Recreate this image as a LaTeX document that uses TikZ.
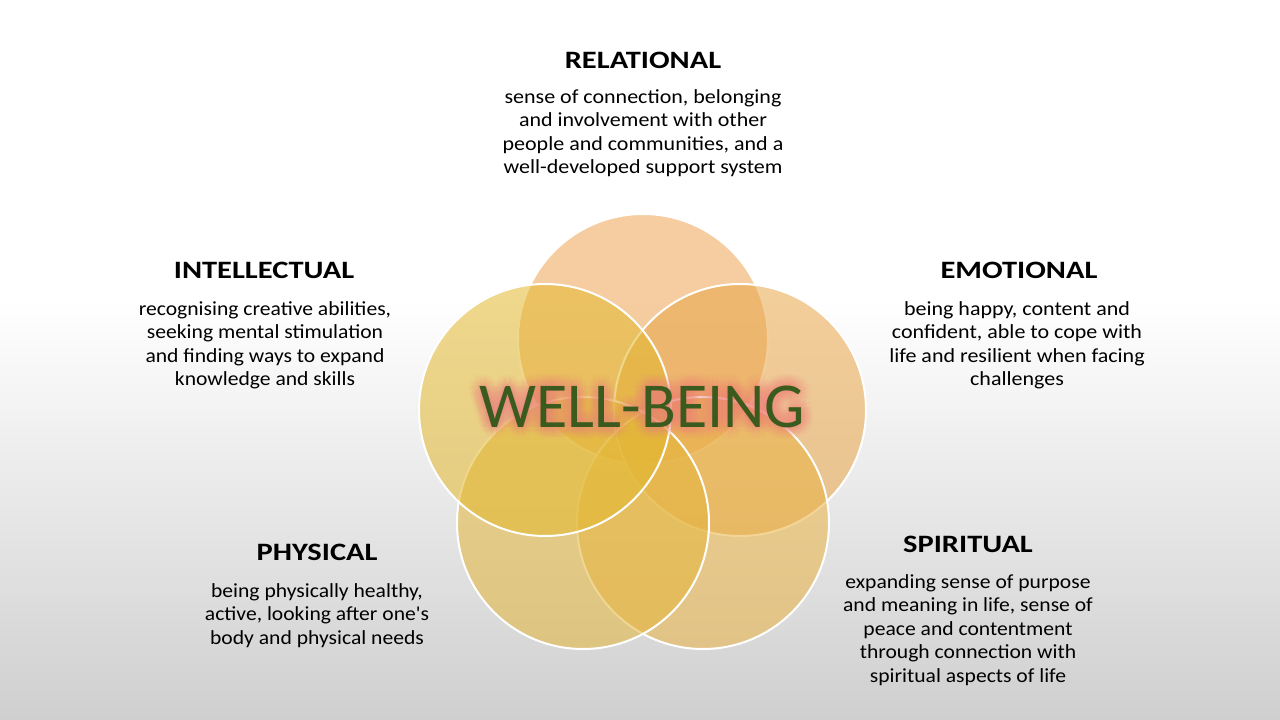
\documentclass[tikz,border=0pt]{standalone}
\usepackage{fontspec}
\setmainfont{Carlito}[Ligatures=TeXOff]
\usepackage{graphicx}
\usetikzlibrary{calc}
\definecolor{cTop}{HTML}{EFA452}
\definecolor{cLeft}{HTML}{E2B82E}
\definecolor{cRight}{HTML}{E9A648}
\definecolor{cBL}{HTML}{E4B53B}
\definecolor{cBR}{HTML}{EAB345}
\definecolor{wbGreen}{HTML}{3A5A1E}
\definecolor{wbGlow}{HTML}{F08A80}
\definecolor{bgBottom}{HTML}{CFCFCF}
\newcommand{\bodyblock}[2]{\scalebox{#1}[1]{\begin{tabular}[t]{@{}c@{}}#2\end{tabular}}}
\newcommand{\titleword}[1]{\scalebox{1.22}[1]{#1}}
\tikzset{
  venn/.style={draw=white, line width=2pt, fill opacity=0.55},
  ttl/.style={anchor=base, inner sep=0pt, font=\fontsize{25}{29}\selectfont\bfseries, text=black},
  bodytxt/.style={anchor=base, inner sep=0pt, font=\fontsize{20}{23.5}\selectfont, text=black},
  wbfont/.style={anchor=base, inner sep=0pt, font=\fontsize{64}{70}\selectfont},
}
\begin{document}
\begin{tikzpicture}[x=1pt,y=-1pt]
\useasboundingbox (0,0) rectangle (1280,720);
\fill[white] (0,0) rectangle (1280,720);
\shade[top color=white, bottom color=bgBottom] (0,300) rectangle (1280,720);
% circles
\path[venn, fill=cTop]   (643,339) circle[radius=125];
\path[venn, fill=cRight] (740,410) circle[radius=126];
\path[venn, fill=cBR]    (703,523) circle[radius=126];
\path[venn, fill=cBL]    (583,523) circle[radius=126];
\path[venn, fill=cLeft]  (545,410) circle[radius=126];
% centre title with glow
\foreach \r in {2,4,6,8,10,12}{
  \foreach \a in {0,30,...,330}{
    \node[wbfont, text=wbGlow, text opacity=0.05] at ($(642.5,427)+(\a:\r)$) {WELL-BEING};
  }
}
\node (wb) [wbfont, text=wbGreen] at (642.5,427) {WELL-BEING};
% relational
\node (relT) [ttl] at (643,68) {\titleword{RELATIONAL}};
\node (relB) [bodytxt] at (643,103) {\bodyblock{1.1}{sense of connection, belonging\\and involvement with other\\people and communities, and a\\well-developed support system}};
% intellectual
\node (intT) [ttl] at (264,278) {\titleword{INTELLECTUAL}};
\node (intB) [bodytxt] at (265,315) {\bodyblock{1.08}{recognising creative abilities,\\seeking mental stimulation\\and finding ways to expand\\knowledge and skills}};
% emotional
\node (emoT) [ttl] at (1019,278) {\titleword{EMOTIONAL}};
\node (emoB) [bodytxt] at (1017,315) {\bodyblock{1.1}{being happy, content and\\confident, able to cope with\\life and resilient when facing\\challenges}};
% physical
\node (phyT) [ttl] at (317,560) {\titleword{PHYSICAL}};
\node (phyB) [bodytxt] at (317,597) {\bodyblock{1.08}{being physically healthy,\\active, looking after one's\\body and physical needs}};
% spiritual
\node (spiT) [ttl] at (968,552) {\titleword{SPIRITUAL}};
\node (spiB) [bodytxt] at (968,588) {\bodyblock{1.08}{expanding sense of purpose\\and meaning in life, sense of\\peace and contentment\\through connection with\\spiritual aspects of life}};
\end{tikzpicture}
\end{document}
